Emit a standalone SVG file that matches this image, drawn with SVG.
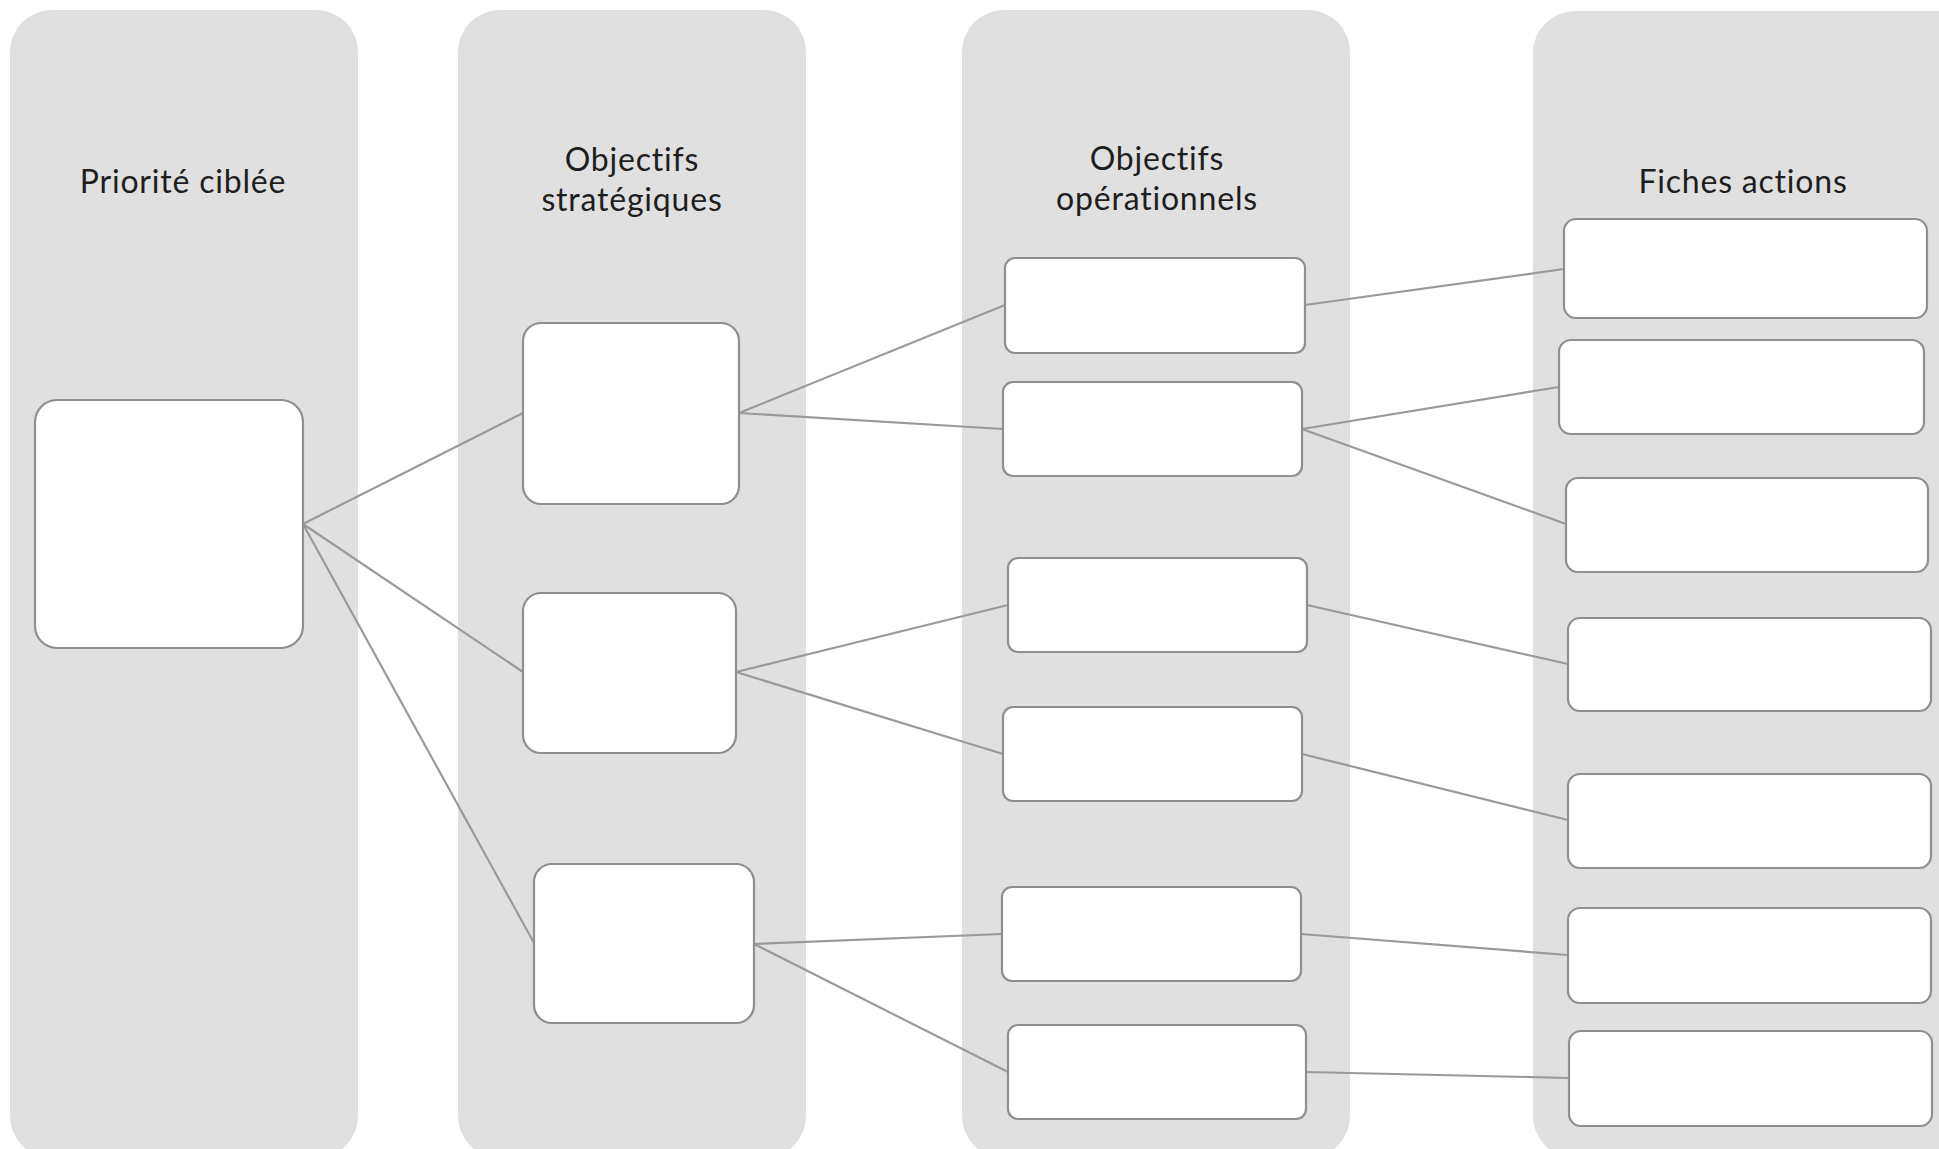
<svg xmlns="http://www.w3.org/2000/svg" width="1939" height="1149" viewBox="0 0 1939 1149">
<style>
.col{fill:#e0e0e0;}
.node{fill:#ffffff;stroke:#8f8f8f;stroke-width:2.2;}
.title{font-family:Lato,"Open Sans","Liberation Sans",sans-serif;font-size:32px;letter-spacing:0.8px;fill:#1e1e1e;text-anchor:middle;}
.conn line{stroke:#9a9a9a;stroke-width:2.2;}
</style>
<g id="columns">
<rect class="col" x="10" y="10" width="348" height="1148" rx="42"/>
<rect class="col" x="458" y="10" width="348" height="1148" rx="42"/>
<rect class="col" x="962" y="10" width="388" height="1148" rx="42"/>
<rect class="col" x="1533" y="11" width="450" height="1147" rx="42"/>
</g>
<g id="titles">
<text class="title" x="183" y="193">Priorité ciblée</text>
<text class="title" x="632" y="171">Objectifs</text>
<text class="title" x="632" y="211">stratégiques</text>
<text class="title" x="1157" y="170">Objectifs</text>
<text class="title" x="1157" y="210">opérationnels</text>
<text class="title" x="1743" y="193">Fiches actions</text>
</g>
<g id="connectors" class="conn">
<line x1="303" y1="524" x2="523" y2="413"/>
<line x1="303" y1="524" x2="523" y2="672"/>
<line x1="303" y1="524" x2="534" y2="943"/>
<line x1="739" y1="413" x2="1005" y2="305"/>
<line x1="739" y1="413" x2="1003" y2="429"/>
<line x1="736" y1="672" x2="1008" y2="605"/>
<line x1="736" y1="672" x2="1003" y2="754"/>
<line x1="754" y1="944" x2="1002" y2="934"/>
<line x1="754" y1="944" x2="1008" y2="1072"/>
<line x1="1305" y1="305" x2="1564" y2="269"/>
<line x1="1302" y1="429" x2="1559" y2="387"/>
<line x1="1302" y1="429" x2="1566" y2="524"/>
<line x1="1307" y1="605" x2="1568" y2="664"/>
<line x1="1302" y1="754" x2="1568" y2="820"/>
<line x1="1301" y1="934" x2="1568" y2="955"/>
<line x1="1306" y1="1072" x2="1569" y2="1078"/>
</g>
<g id="priorite"><rect class="node" x="35" y="400" width="268" height="248" rx="22"/></g>
<g id="strat1"><rect class="node" x="523" y="323" width="216" height="181" rx="18"/></g>
<g id="strat2"><rect class="node" x="523" y="593" width="213" height="160" rx="18"/></g>
<g id="strat3"><rect class="node" x="534" y="864" width="220" height="159" rx="18"/></g>
<g id="op1"><rect class="node" x="1005" y="258" width="300" height="95" rx="10"/></g>
<g id="op2"><rect class="node" x="1003" y="382" width="299" height="94" rx="10"/></g>
<g id="op3"><rect class="node" x="1008" y="558" width="299" height="94" rx="10"/></g>
<g id="op4"><rect class="node" x="1003" y="707" width="299" height="94" rx="10"/></g>
<g id="op5"><rect class="node" x="1002" y="887" width="299" height="94" rx="10"/></g>
<g id="op6"><rect class="node" x="1008" y="1025" width="298" height="94" rx="10"/></g>
<g id="fa1"><rect class="node" x="1564" y="219" width="363" height="99" rx="12"/></g>
<g id="fa2"><rect class="node" x="1559" y="340" width="365" height="94" rx="12"/></g>
<g id="fa3"><rect class="node" x="1566" y="478" width="362" height="94" rx="12"/></g>
<g id="fa4"><rect class="node" x="1568" y="618" width="363" height="93" rx="12"/></g>
<g id="fa5"><rect class="node" x="1568" y="774" width="363" height="94" rx="12"/></g>
<g id="fa6"><rect class="node" x="1568" y="908" width="363" height="95" rx="12"/></g>
<g id="fa7"><rect class="node" x="1569" y="1031" width="363" height="95" rx="12"/></g>
</svg>
